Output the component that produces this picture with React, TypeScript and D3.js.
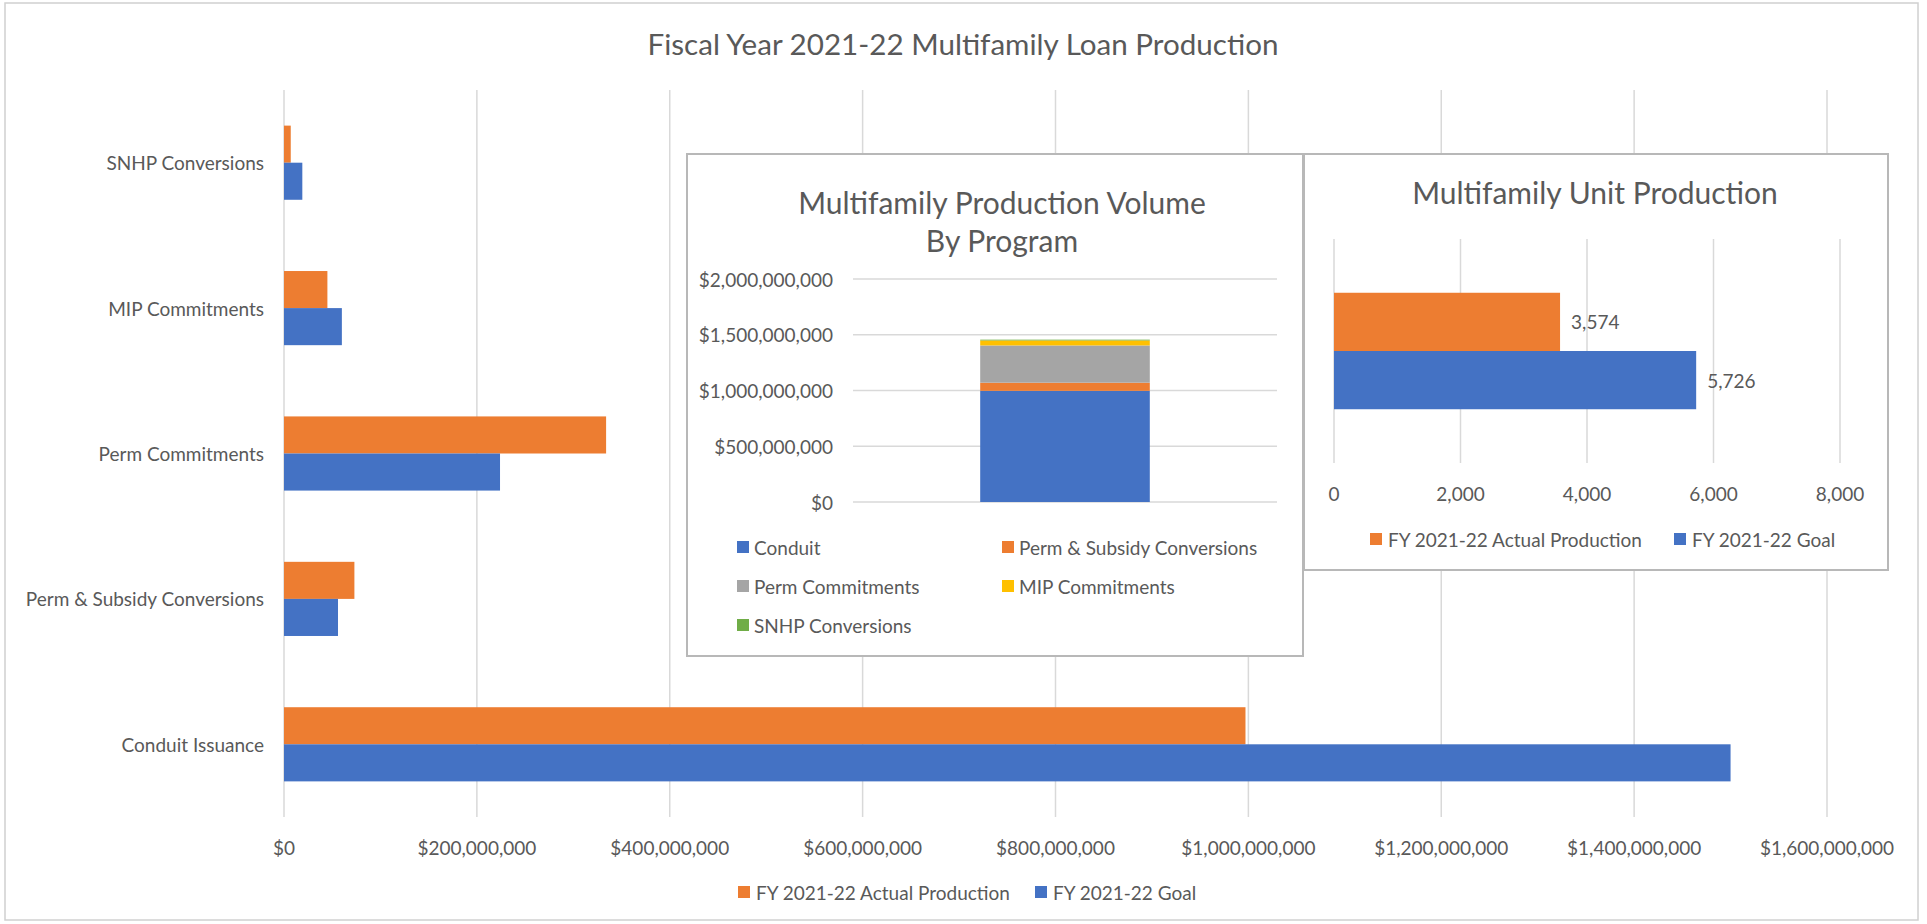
import React from "react";
import * as d3 from "d3";

// ---------- DATA ----------
const categories = [
  "SNHP Conversions",
  "MIP Commitments",
  "Perm Commitments",
  "Perm & Subsidy Conversions",
  "Conduit Issuance",
];
const actualProduction = [7e6, 45e6, 334e6, 73e6, 997e6];
const goalProduction = [19e6, 60e6, 224e6, 56e6, 1500e6];
const seriesNames = ["FY 2021-22 Actual Production", "FY 2021-22 Goal"];
const mainTicks = [0, 2e8, 4e8, 6e8, 8e8, 1e9, 1.2e9, 1.4e9, 1.6e9];

const programKeys = [
  "Conduit",
  "Perm & Subsidy Conversions",
  "Perm Commitments",
  "MIP Commitments",
  "SNHP Conversions",
];
const programVolumes = [997e6, 73e6, 334e6, 45e6, 7e6];
const volumeTicks = [0, 5e8, 1e9, 1.5e9, 2e9];

const unitSeries = ["FY 2021-22 Actual Production", "FY 2021-22 Goal"];
const unitValues = [3574, 5726];
const unitTicks = [0, 2000, 4000, 6000, 8000];

// ---------- STYLE ----------
const ORANGE = "#ED7D31";
const BLUE = "#4472C4";
const GRAY = "#A5A5A5";
const YELLOW = "#FFC000";
const GREEN = "#70AD47";
const TEXT = "#595959";
const GRID = "#D9D9D9";
const FONT = "Lato, 'Noto Sans', sans-serif";
const SMALL = 19;
const TITLE = 30;
const MAIN_TITLE = 29.6;
const programColors = [BLUE, ORANGE, GRAY, YELLOW, GREEN];
const seriesColors = [ORANGE, BLUE];

const fmtMoney = d3.format("$,.0f");
const fmtUnits = d3.format(",");

function MainChart() {
  const x = d3.scaleLinear().domain([0, 1.6e9]).range([284, 1827]);
  const y0 = d3
    .scaleBand<string>()
    .domain(categories)
    .range([90, 817])
    .paddingInner(0.49)
    .paddingOuter(0.245);
  const y1 = d3
    .scaleBand<string>()
    .domain(["actual", "goal"])
    .range([0, y0.bandwidth()]);
  const rows = categories.map((c, i) => ({
    c,
    vals: [
      { k: "actual", v: actualProduction[i], color: ORANGE },
      { k: "goal", v: goalProduction[i], color: BLUE },
    ],
  }));
  return (
    <g>
      <rect x={5} y={3} width={1913} height={917} fill="#fff" stroke="#D0D0D0" strokeWidth={1.5} />
      <text x={963} y={43} textAnchor="middle" dominantBaseline="central" fontSize={MAIN_TITLE} fill={TEXT}>
        Fiscal Year 2021-22 Multifamily Loan Production
      </text>
      {mainTicks.map((t) => (
        <g key={t}>
          <line x1={x(t)} x2={x(t)} y1={90} y2={817} stroke={GRID} strokeWidth={1.5} />
          <text x={x(t)} y={847} textAnchor="middle" dominantBaseline="central" fontSize={SMALL} fill={TEXT}>
            {fmtMoney(t)}
          </text>
        </g>
      ))}
      {rows.map((r) => (
        <g key={r.c}>
          <text
            x={264}
            y={(y0(r.c) as number) + y0.bandwidth() / 2}
            textAnchor="end"
            dominantBaseline="central"
            fontSize={SMALL}
            fill={TEXT}
          >
            {r.c}
          </text>
          {r.vals.map((b) => (
            <rect
              key={b.k}
              x={x(0)}
              y={(y0(r.c) as number) + (y1(b.k) as number)}
              width={x(b.v) - x(0)}
              height={y1.bandwidth()}
              fill={b.color}
            />
          ))}
        </g>
      ))}
      {[
        { name: seriesNames[0], color: ORANGE, mx: 738 },
        { name: seriesNames[1], color: BLUE, mx: 1035 },
      ].map((l) => (
        <g key={l.name}>
          <rect x={l.mx} y={886} width={12} height={12} fill={l.color} />
          <text x={l.mx + 18} y={892} dominantBaseline="central" fontSize={SMALL} fill={TEXT}>
            {l.name}
          </text>
        </g>
      ))}
    </g>
  );
}

function VolumeInset() {
  const y = d3.scaleLinear().domain([0, 2e9]).range([502, 279]);
  const x = d3
    .scaleBand<string>()
    .domain(["Total"])
    .range([853, 1277])
    .paddingInner(0.6)
    .paddingOuter(0.3);
  const datum: Record<string, number> = {};
  programKeys.forEach((k, i) => (datum[k] = programVolumes[i]));
  const stacked = d3.stack<Record<string, number>>().keys(programKeys)([datum]);
  const legendPos = [
    { cx: 737, cy: 547 },
    { cx: 1002, cy: 547 },
    { cx: 737, cy: 586 },
    { cx: 1002, cy: 586 },
    { cx: 737, cy: 625 },
  ];
  return (
    <g>
      <rect x={687} y={154} width={616} height={502} fill="#fff" stroke="#B8B8B8" strokeWidth={2} />
      <text x={1002} y={202} textAnchor="middle" dominantBaseline="central" fontSize={TITLE} fill={TEXT}>
        Multifamily Production Volume
      </text>
      <text x={1002} y={240} textAnchor="middle" dominantBaseline="central" fontSize={TITLE} fill={TEXT}>
        By Program
      </text>
      {volumeTicks.map((t) => (
        <g key={t}>
          <line x1={853} x2={1277} y1={y(t)} y2={y(t)} stroke={GRID} strokeWidth={1.5} />
          <text x={833} y={y(t)} textAnchor="end" dominantBaseline="central" fontSize={SMALL} fill={TEXT}>
            {fmtMoney(t)}
          </text>
        </g>
      ))}
      {stacked.map((s, i) => (
        <rect
          key={programKeys[i]}
          x={x("Total")}
          y={y(s[0][1])}
          width={x.bandwidth()}
          height={y(s[0][0]) - y(s[0][1])}
          fill={programColors[i]}
        />
      ))}
      {programKeys.map((k, i) => (
        <g key={k}>
          <rect x={legendPos[i].cx} y={legendPos[i].cy - 6} width={12} height={12} fill={programColors[i]} />
          <text x={legendPos[i].cx + 17} y={legendPos[i].cy} dominantBaseline="central" fontSize={SMALL} fill={TEXT}>
            {k}
          </text>
        </g>
      ))}
    </g>
  );
}

function UnitInset() {
  const x = d3.scaleLinear().domain([0, 8000]).range([1334, 1840]);
  const yb = d3
    .scaleBand<string>()
    .domain(["Units"])
    .range([239, 463])
    .paddingInner(0.48)
    .paddingOuter(0.24);
  const ys = d3
    .scaleBand<string>()
    .domain(unitSeries)
    .range([yb("Units") as number, (yb("Units") as number) + yb.bandwidth()]);
  const legendPos = [1370, 1674];
  return (
    <g>
      <rect x={1304} y={154} width={584} height={416} fill="#fff" stroke="#B8B8B8" strokeWidth={2} />
      <text x={1595} y={192} textAnchor="middle" dominantBaseline="central" fontSize={TITLE} fill={TEXT}>
        Multifamily Unit Production
      </text>
      {unitTicks.map((t) => (
        <g key={t}>
          <line x1={x(t)} x2={x(t)} y1={239} y2={463} stroke={GRID} strokeWidth={1.5} />
          <text x={x(t)} y={493} textAnchor="middle" dominantBaseline="central" fontSize={SMALL} fill={TEXT}>
            {fmtUnits(t)}
          </text>
        </g>
      ))}
      {unitSeries.map((s, i) => (
        <g key={s}>
          <rect
            x={x(0)}
            y={ys(s)}
            width={x(unitValues[i]) - x(0)}
            height={ys.bandwidth()}
            fill={seriesColors[i]}
          />
          <text
            x={x(unitValues[i]) + 11}
            y={(ys(s) as number) + ys.bandwidth() / 2}
            dominantBaseline="central"
            fontSize={SMALL}
            fill={TEXT}
          >
            {fmtUnits(unitValues[i])}
          </text>
        </g>
      ))}
      {unitSeries.map((s, i) => (
        <g key={"l" + s}>
          <rect x={legendPos[i]} y={533} width={12} height={12} fill={seriesColors[i]} />
          <text x={legendPos[i] + 18} y={539} dominantBaseline="central" fontSize={SMALL} fill={TEXT}>
            {s}
          </text>
        </g>
      ))}
    </g>
  );
}

export default function App() {
  return (
    <svg
      width={1927}
      height={924}
      style={{ position: "absolute", left: 0, top: 0, background: "#fff" }}
      fontFamily={FONT}
    >
      <rect x={0} y={0} width={1927} height={924} fill="#fff" />
      <MainChart />
      <VolumeInset />
      <UnitInset />
    </svg>
  );
}
